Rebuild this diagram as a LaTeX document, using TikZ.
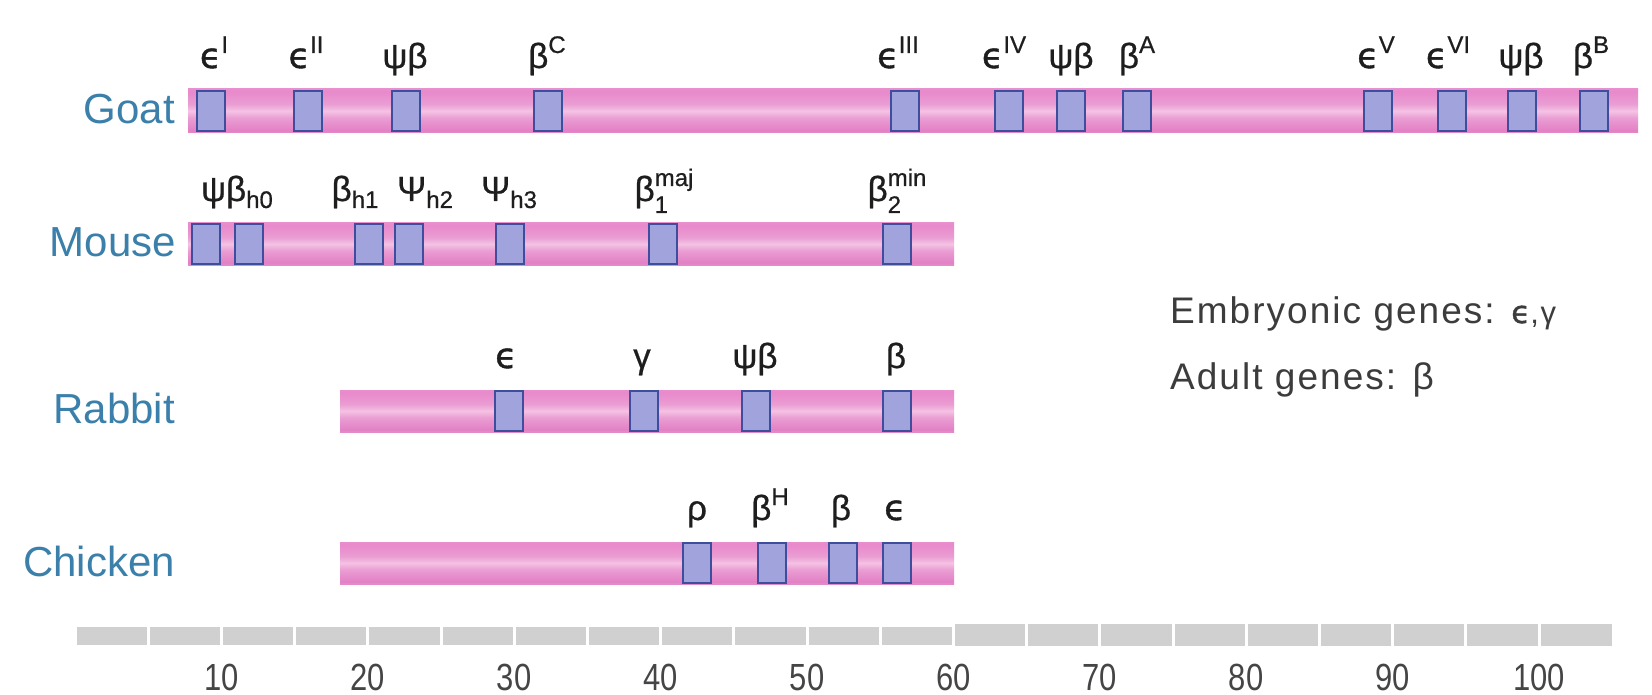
\documentclass[tikz,border=0pt]{standalone}
\usepackage{fontspec}
\usepackage{graphicx}
\setmainfont{Liberation Sans}
\newfontfamily\dvfont[FakeBold=1.2]{DejaVu Sans}
\newfontfamily\genefont[FakeBold=0.6]{Liberation Sans}
\newfontfamily\legfont[LetterSpace=5.5]{Liberation Sans}
\definecolor{spec}{HTML}{3B80AA}
\definecolor{gtext}{HTML}{1E1E1E}
\definecolor{legtext}{HTML}{3C3C3C}
\definecolor{boxfill}{HTML}{A0A3DC}
\definecolor{boxline}{HTML}{3E4D9C}
\definecolor{scalegray}{HTML}{D0D0D0}
\definecolor{numtext}{HTML}{454545}
\definecolor{pa}{HTML}{F7D8EE}
\definecolor{pb}{HTML}{EFB2DC}
\definecolor{pc}{HTML}{E281C5}
\definecolor{pd}{HTML}{EA9DD3}
\definecolor{pe}{HTML}{F4C3E4}
\definecolor{pf}{HTML}{E889CB}
\definecolor{pg}{HTML}{EDA6D7}
\pgfdeclareverticalshading{chromshade}{100bp}{color(0bp)=(pa); color(12bp)=(pb); color(28bp)=(pc); color(42bp)=(pd); color(50bp)=(pe); color(58bp)=(pd); color(72bp)=(pf); color(88bp)=(pg); color(100bp)=(pb)}
\newcommand{\eps}{{\dvfont ϵ}}
\newcommand{\gsup}[1]{\raisebox{15pt}{\fontsize{24}{24}\selectfont #1}}
\newcommand{\gsub}[1]{\raisebox{-7pt}{\fontsize{24}{24}\selectfont #1}}
\newcommand{\gsubsup}[2]{\rlap{\raisebox{-12pt}{\fontsize{24}{24}\selectfont #1}}\raisebox{15pt}{\fontsize{24}{24}\selectfont #2}}
\tikzset{
  genebox/.style={draw=boxline, fill=boxfill, line width=1.6pt, minimum width=28pt, minimum height=40pt, inner sep=0pt},
  glabel/.style={anchor=base, inner sep=0pt, text=gtext, font=\genefont\fontsize{35}{35}\selectfont},
  species/.style={anchor=base east, inner sep=0pt, text=spec, font=\fontsize{42}{42}\selectfont},
  chrom/.style={shading=chromshade},
  numlabel/.style={anchor=base, inner sep=0pt, text=numtext, font=\fontsize{31}{31}\selectfont},
  legend/.style={anchor=base west, inner sep=0pt, text=legtext, font=\legfont\fontsize{37}{37}\selectfont},
  tickgap/.style={draw=white, line width=3pt}
}
\begin{document}
\begin{tikzpicture}[x=1pt,y=-1pt]
\useasboundingbox[fill=white] (0,0) rectangle (1652,695);
% chromosomes
\shade[chrom] (188,89) rectangle (1638,133);
\shade[chrom] (188,223) rectangle (954,265);
\shade[chrom] (340,390) rectangle (954,432);
\shade[chrom] (340,542) rectangle (954,584);
% species
\node[species] (goat) at (175,124) {Goat};
\node[species] (mouse) at (176,256) {Mouse};
\node[species] (rabbit) at (175,423) {Rabbit};
\node[species] (chicken) at (175,576) {Chicken};
% gene boxes
\foreach \x [count=\i] in {211,308,406,548,905,1009,1071,1137,1378,1452,1522,1594}
  \node[genebox] (gb\i) at (\x,111) {};
\foreach \x [count=\i] in {206,249,369,409,510,663,897}
  \node[genebox] (mb\i) at (\x,244) {};
\foreach \x [count=\i] in {509,644,756,897}
  \node[genebox] (rb\i) at (\x,411) {};
\foreach \x [count=\i] in {697,772,843,897}
  \node[genebox] (cb\i) at (\x,563) {};
% goat labels
\node[glabel] (gl1) at (214,68) {\eps\gsup{I}};
\node[glabel] (gl2) at (306,68) {\eps\gsup{II}};
\node[glabel] (gl3) at (405,68) {ψβ};
\node[glabel] (gl4) at (547,68) {β\gsup{C}};
\node[glabel] (gl5) at (898,68) {\eps\gsup{III}};
\node[glabel] (gl6) at (1004,68) {\eps\gsup{IV}};
\node[glabel] (gl7) at (1071,68) {ψβ};
\node[glabel] (gl8) at (1137,68) {β\gsup{A}};
\node[glabel] (gl9) at (1376,68) {\eps\gsup{V}};
\node[glabel] (gl10) at (1448,68) {\eps\gsup{VI}};
\node[glabel] (gl11) at (1521,68) {ψβ};
\node[glabel] (gl12) at (1591,68) {β\gsup{B}};
% mouse labels
\node[glabel] (ml1) at (237,201) {ψβ\gsub{h0}};
\node[glabel] (ml2) at (355,201) {β\gsub{h1}};
\node[glabel] (ml3) at (425,201) {Ψ\gsub{h2}};
\node[glabel] (ml4) at (509,201) {Ψ\gsub{h3}};
\node[glabel] (ml5) at (664,201) {β\gsubsup{1}{maj}};
\node[glabel] (ml6) at (897,201) {β\gsubsup{2}{min}};
% rabbit labels
\node[glabel] (rl1) at (506,368) {\eps};
\node[glabel] (rl2) at (642,368) {γ};
\node[glabel] (rl3) at (755,368) {ψβ};
\node[glabel] (rl4) at (896,368) {β};
% chicken labels
\node[glabel] (cl1) at (697,520) {ρ};
\node[glabel] (cl2) at (770,520) {β\gsup{H}};
\node[glabel] (cl3) at (841,520) {β};
\node[glabel] (cl4) at (895,520) {\eps};
% legend
\node[legend] (leg1) at (1170,323) {Embryonic genes: {\fontsize{31}{31}\selectfont\eps,γ}};
\node[legend] (leg2) at (1170,389) {Adult genes: β};
% scale bar
\fill[scalegray] (77,627) rectangle (953,645);
\fill[scalegray] (953,624) rectangle (1612,646);
\foreach \u in {5,10,...,100}
  \draw[tickgap] ({75+14.64*\u},620) -- ({75+14.64*\u},650);
\foreach \u in {10,20,...,100}
  \node[numlabel] (n\u) at ({75+14.64*\u},690) {\scalebox{1}[1.22]{\u}};
\end{tikzpicture}
\end{document}
